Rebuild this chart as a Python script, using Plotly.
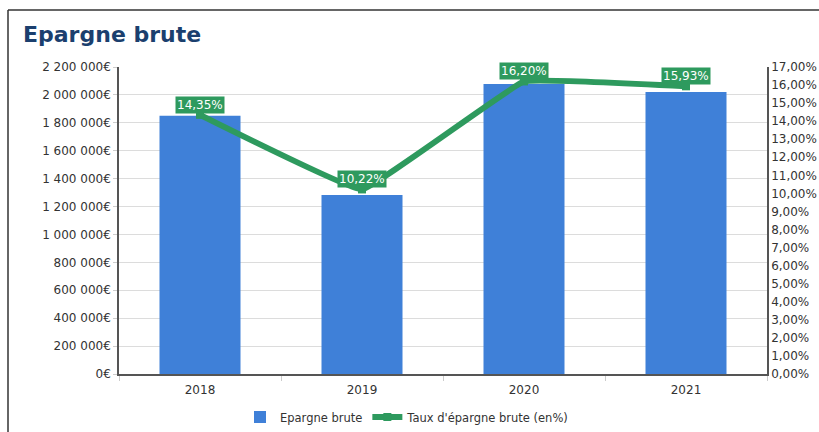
import plotly.graph_objects as go

# Data
years = ["2018", "2019", "2020", "2021"]
epargne_brute = [1850000, 1283000, 2079000, 2021000]
taux_epargne = [14.35, 10.22, 16.20, 15.93]

left_tickvals = [0, 200000, 400000, 600000, 800000, 1000000, 1200000,
                 1400000, 1600000, 1800000, 2000000, 2200000]
left_ticktext = ["0€", "200 000€", "400 000€", "600 000€", "800 000€",
                 "1 000 000€", "1 200 000€", "1 400 000€", "1 600 000€",
                 "1 800 000€", "2 000 000€", "2 200 000€"]
right_tickvals = list(range(0, 18))
right_ticktext = [f"{v},00%" for v in right_tickvals]

BLUE = "#3f80d8"
GREEN = "#2e9a5e"
FONT = "DejaVu Sans"

W, H = 819, 432
L, R, T, B = 119, 52, 67, 58
pw, ph = W - L - R, H - T - B


def px_x(px):
    return (px - L) / pw


def px_y(py):
    return (H - B - py) / ph


fig = go.Figure()
fig.add_trace(go.Bar(
    x=years, y=epargne_brute, name="Epargne brute",
    marker=dict(color=BLUE, line=dict(width=0)), width=0.5,
))
fig.add_trace(go.Scatter(
    x=years, y=taux_epargne, name="Taux d'épargne brute (en%)",
    yaxis="y2", mode="lines+markers",
    line=dict(color=GREEN, width=6, shape="spline", smoothing=0.2),
    marker=dict(color=GREEN, size=8, symbol="square"),
))

# value labels above the rate line (category index positions)
for i, v in enumerate(taux_epargne):
    fig.add_annotation(
        x=i, y=v, xref="x", yref="y2", text=f"{v:.2f}%".replace(".", ","),
        showarrow=False, yshift=10, bgcolor=GREEN,
        font=dict(family=FONT, size=12, color="white"),
        borderpad=1,
    )

# title
fig.add_annotation(
    x=px_x(21), y=px_y(35), xref="paper", yref="paper",
    text="<b>Epargne brute</b>", showarrow=False, xanchor="left", yanchor="middle",
    font=dict(family=FONT, size=22, color="#1b3f6e"),
)

# frame lines
fig.add_shape(type="line", xref="paper", yref="paper",
              x0=px_x(8), x1=px_x(8), y0=px_y(10), y1=px_y(440),
              line=dict(color="#333333", width=1.5))
fig.add_shape(type="line", xref="paper", yref="paper",
              x0=px_x(8), x1=px_x(830), y0=px_y(10), y1=px_y(10),
              line=dict(color="#333333", width=1.5))

fig.update_layout(
    width=W, height=H,
    margin=dict(l=L, r=R, t=T, b=B, autoexpand=False),
    paper_bgcolor="white", plot_bgcolor="white",
    font=dict(family=FONT, size=12, color="#333333"),
    showlegend=True,
    legend=dict(orientation="h", x=px_x(240), xanchor="left", y=px_y(417), yanchor="middle",
                font=dict(family=FONT, size=11.5, color="#333333"),
                itemwidth=30),
    xaxis=dict(
        type="category", range=[-0.5, 3.5],
        showline=True, linecolor="#555555", linewidth=1.5,
        ticks="outside", tickson="boundaries", ticklen=5, tickcolor="#cccccc",
        tickfont=dict(family=FONT, size=12, color="#333333"),
        ticklabelstandoff=4,
        showgrid=False,
    ),
    yaxis=dict(
        range=[0, 2200000], tickvals=left_tickvals, ticktext=left_ticktext,
        showline=True, linecolor="#555555", linewidth=1.5,
        gridcolor="#dcdcdc", gridwidth=1, zeroline=False,
        ticks="outside", ticklen=4, tickcolor="#cccccc",
        tickfont=dict(family=FONT, size=12, color="#333333"),
    ),
    yaxis2=dict(
        range=[0, 17], tickvals=right_tickvals, ticktext=right_ticktext,
        overlaying="y", side="right", showgrid=False, zeroline=False,
        showline=True, linecolor="#555555", linewidth=1.5,
        ticks="", ticklen=0,
        tickfont=dict(family=FONT, size=12, color="#333333"),
    ),
)

fig.write_html("out.html")
